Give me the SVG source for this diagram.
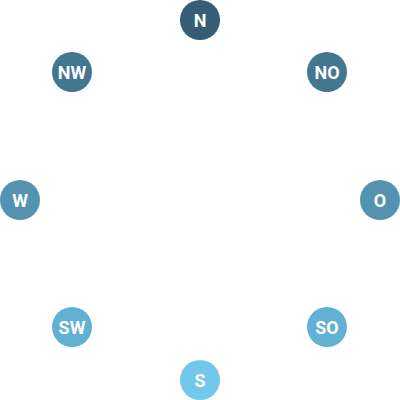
<svg xmlns="http://www.w3.org/2000/svg" width="400" height="400" viewBox="0 0 400 400">
<style>
text{font-family:"Roboto","Liberation Sans",sans-serif;font-weight:700;font-size:18px;fill:#fff;text-anchor:middle;dominant-baseline:central}
</style>
<rect width="400" height="400" fill="#fff"/>
<g id="connectors"></g>
<g id="N"><circle cx="200" cy="20" r="20" fill="#365d74"/><text x="200" y="20.5">N</text></g>
<g id="NO"><circle cx="327" cy="72" r="20" fill="#437690"/><text x="327" y="72.5">NO</text></g>
<g id="O"><circle cx="380" cy="200" r="20" fill="#5393b0"/><text x="380" y="200.5">O</text></g>
<g id="SO"><circle cx="327" cy="327" r="20" fill="#62b0d3"/><text x="327" y="327.5">SO</text></g>
<g id="S"><circle cx="200" cy="380" r="20" fill="#72c7ed"/><text x="200" y="380.5">S</text></g>
<g id="SW"><circle cx="72" cy="327" r="20" fill="#62b0d3"/><text x="72" y="327.5">SW</text></g>
<g id="W"><circle cx="20" cy="200" r="20" fill="#5393b0"/><text x="20" y="200.5">W</text></g>
<g id="NW"><circle cx="72" cy="72" r="20" fill="#437690"/><text x="72" y="72.5">NW</text></g>
</svg>
